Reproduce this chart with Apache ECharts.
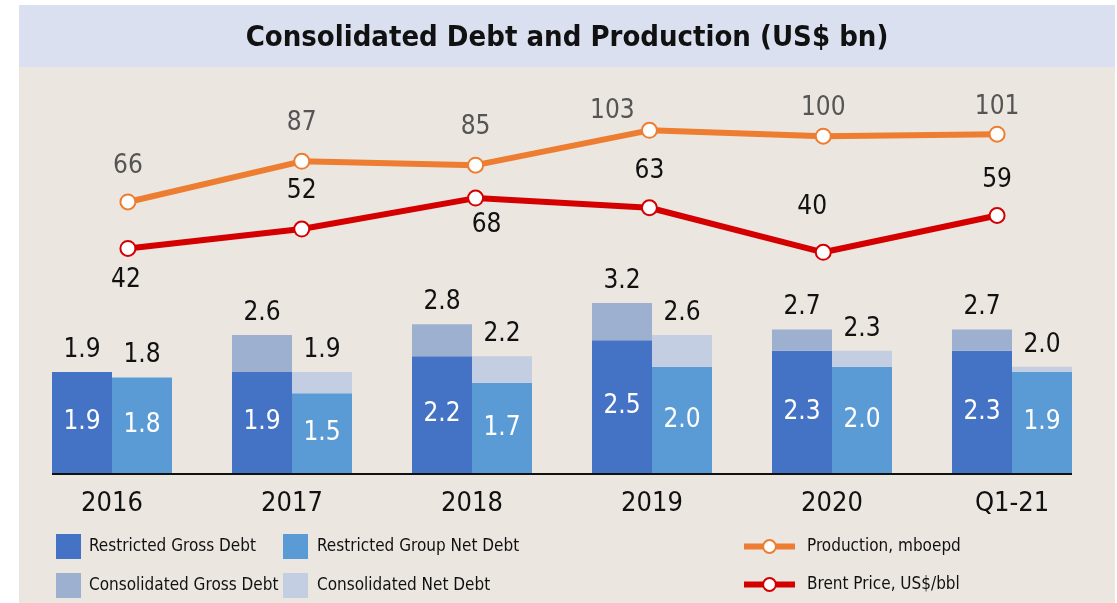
<!DOCTYPE html>
<html>
<head>
<meta charset="utf-8">
<script src="https://cdn.jsdelivr.net/npm/echarts@6/dist/echarts.min.js"></script>
<style>
html,body{margin:0;padding:0;background:#fff;}
#c{width:1117px;height:603px;}
</style>
</head>
<body>
<div id="c"></div>
<script>
const categories = ['2016','2017','2018','2019','2020','Q1-21'];
const restrictedGross = [1.9, 1.9, 2.2, 2.5, 2.3, 2.3];
const consolidatedGross = [1.9, 2.6, 2.8, 3.2, 2.7, 2.7];
const restrictedNet = [1.8, 1.5, 1.7, 2.0, 2.0, 1.9];
const consolidatedNet = [1.8, 1.9, 2.2, 2.6, 2.3, 2.0];
const production = [66, 87, 85, 103, 100, 101];
const brent = [42, 52, 68, 63, 40, 59];
const titleText = 'Consolidated Debt and Production (US$ bn)';

const FONT = "'Liberation Sans Narrow', 'DejaVu Sans Condensed', 'Arial Narrow', sans-serif";
const C_RG = '#4472C4', C_RN = '#5B9BD5', C_CG = '#9DB0CF', C_CN = '#C3CEE2';
const C_PROD = '#ED7D31', C_BRENT = '#D40000';

const grossExtra = consolidatedGross.map((v, i) => +(v - restrictedGross[i]).toFixed(2));
const netExtra = consolidatedNet.map((v, i) => +(v - restrictedNet[i]).toFixed(2));

// label placement tweaks (styles only)
const prodLabelPos = [
  {position:'top', offset:[0,-8]}, {position:'top', offset:[0,-11]}, {position:'top', offset:[0,-10]},
  {position:'top', offset:[-37,8]}, {position:'top', offset:[0,0]}, {position:'top', offset:[0,1]}
];
const brentLabelPos = [
  {position:'bottom', offset:[-2,4]}, {position:'top', offset:[0,-10]}, {position:'bottom', offset:[11,0]},
  {position:'top', offset:[0,-9]}, {position:'top', offset:[-11,-18]}, {position:'top', offset:[0,-8]}
];

const chart = echarts.init(document.getElementById('c'), null, {renderer:'canvas'});
const labelBase = {fontFamily: FONT, fontSize: 26};
const legendText = {fontFamily:FONT, fontSize:17, color:'#111'};

const option = {
  animation: false,
  textStyle: {fontFamily: FONT},
  graphic: [
    {type:'rect', z:-10, shape:{x:19, y:5, width:1096, height:62}, style:{fill:'#DAE0EF'}, silent:true},
    {type:'rect', z:-10, shape:{x:19, y:67, width:1096, height:536}, style:{fill:'#EBE6E0'}, silent:true},
    {type:'text', z:10, x:567, y:38, silent:true,
     style:{text:titleText, fontFamily:FONT, fontSize:29, fontWeight:'bold', fill:'#111',
            align:'center', verticalAlign:'middle'}}
  ],
  legend: [
    {orient:'vertical', left:56, top:534, padding:0, itemWidth:25, itemHeight:25, itemGap:14, icon:'rect',
     data:['Restricted Gross Debt','Consolidated Gross Debt'],
     textStyle:{...legendText, padding:[0,0,0,3]}},
    {orient:'vertical', left:283, top:534, padding:0, itemWidth:25, itemHeight:25, itemGap:14, icon:'rect',
     data:['Restricted Group Net Debt','Consolidated Net Debt'],
     textStyle:{...legendText, padding:[0,0,0,4]}},
    {orient:'vertical', left:741, top:538, padding:0, itemWidth:51, itemHeight:16, itemGap:21,
     data:['Production, mboepd','Brent Price, US$/bbl'],
     lineStyle:{width:6},
     textStyle:{...legendText, padding:[0,0,0,7]}}
  ],
  grid: [
    {left:22, right:15, top:80, bottom:130},
    {left:41, width:1043, top:80, bottom:130}
  ],
  xAxis: [
    {type:'category', gridIndex:0, data:categories,
     axisLine:{show:false}, axisTick:{show:false},
     axisLabel:{fontFamily:FONT, fontSize:27, color:'#111', margin:17}},
    {type:'category', gridIndex:1, data:categories, show:false}
  ],
  yAxis: [
    {type:'value', gridIndex:0, min:0, max:7.4, show:false, splitLine:{show:false}},
    {type:'value', gridIndex:1, min:-74, max:129, show:false, splitLine:{show:false}}
  ],
  series: [
    {name:'Restricted Gross Debt', type:'bar', stack:'gross', xAxisIndex:0, yAxisIndex:0,
     barWidth:60, barGap:'0%', data:restrictedGross, itemStyle:{color:C_RG},
     label:{show:true, position:'inside', color:'#fff', ...labelBase, formatter: p => p.value.toFixed(1)}},
    {name:'Consolidated Gross Debt', type:'bar', stack:'gross', xAxisIndex:0, yAxisIndex:0,
     barWidth:60, barGap:'0%', data:grossExtra, itemStyle:{color:C_CG},
     label:{show:true, position:'top', distance:9, color:'#111', ...labelBase,
            formatter: p => consolidatedGross[p.dataIndex].toFixed(1)}},
    {name:'Restricted Group Net Debt', type:'bar', stack:'net', xAxisIndex:0, yAxisIndex:0,
     barWidth:60, barGap:'0%', data:restrictedNet, itemStyle:{color:C_RN},
     label:{show:true, position:'inside', color:'#fff', ...labelBase, formatter: p => p.value.toFixed(1)}},
    {name:'Consolidated Net Debt', type:'bar', stack:'net', xAxisIndex:0, yAxisIndex:0,
     barWidth:60, barGap:'0%', data:netExtra, itemStyle:{color:C_CN},
     label:{show:true, position:'top', distance:9, color:'#111', ...labelBase,
            formatter: p => consolidatedNet[p.dataIndex].toFixed(1)}},
    {name:'Production, mboepd', type:'line', xAxisIndex:1, yAxisIndex:1,
     data: production.map((v,i) => ({value:v, label:prodLabelPos[i]})),
     lineStyle:{color:C_PROD, width:6}, itemStyle:{color:'#fff', borderColor:C_PROD, borderWidth:2},
     symbol:'circle', symbolSize:15, z:5,
     label:{show:true, color:'#555', ...labelBase, distance:6}},
    {name:'Brent Price, US$/bbl', type:'line', xAxisIndex:1, yAxisIndex:1,
     data: brent.map((v,i) => ({value:v, label:brentLabelPos[i]})),
     lineStyle:{color:C_BRENT, width:6}, itemStyle:{color:'#fff', borderColor:C_BRENT, borderWidth:2},
     symbol:'circle', symbolSize:15, z:5,
     label:{show:true, color:'#111', ...labelBase, distance:6}}
  ]
};
chart.setOption(option);

// baseline under the bars, spanning from the first bar's left edge to the last bar's right edge
const x0 = chart.convertToPixel({xAxisIndex:0}, categories[0]) - 60;
const x1 = chart.convertToPixel({xAxisIndex:0}, categories[categories.length-1]) + 60;
const yb = chart.convertToPixel({yAxisIndex:0}, 0);
chart.setOption({graphic: option.graphic.concat([
  {type:'line', z:10, shape:{x1:x0, y1:yb+1, x2:x1, y2:yb+1}, style:{stroke:'#111', lineWidth:2}, silent:true}
])});
</script>
</body>
</html>
